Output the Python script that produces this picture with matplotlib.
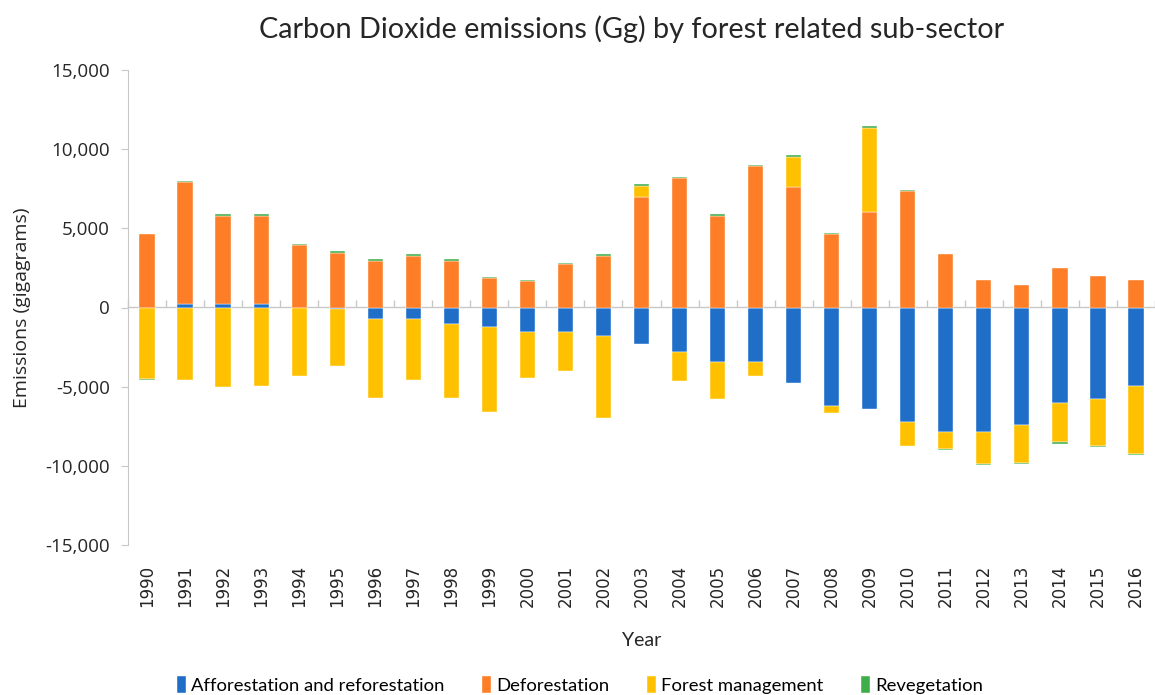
import matplotlib.pyplot as plt
import numpy as np
from matplotlib.ticker import FuncFormatter

plt.rcParams['font.family'] = ['Open Sans', 'DejaVu Sans']
plt.rcParams['ytick.labelsize'] = 13.5

years = [str(y) for y in range(1990, 2017)]

# values in Gg
afforestation = [0, 230, 230, 230, 0, -120, -700, -700, -1040, -1230,
                 -1540, -1540, -1770, -2280, -2830, -3460, -3460, -4750, -6250, -6440,
                 -7200, -7850, -7850, -7430, -6040, -5800, -4960]
deforestation = [4640, 7700, 5580, 5580, 3930, 3470, 2960, 3270, 2960, 1860,
                 1650, 2720, 3270, 6980, 8170, 5810, 8910, 7615, 4640, 6015,
                 7330, 3350, 1730, 1410, 2470, 1960, 1730]
forest_mgmt = [-4500, -4550, -5050, -4980, -4330, -3580, -5020, -3860, -4680, -5350,
               -2920, -2470, -5240, 715, -1790, -2340, -840, 1920, -420, 5320,
               -1520, -1080, -2025, -2360, -2470, -2920, -4280]
revegetation = [-80, 80, 80, 80, 80, 80, 80, 80, 80, 80,
                80, 80, 80, 100, 80, 80, 80, 100, 80, 100,
                80, -100, -100, -80, -80, -80, -80]

series = [("Afforestation and reforestation", afforestation, "#1f6fc9"),
          ("Deforestation", deforestation, "#fd7e26"),
          ("Forest management", forest_mgmt, "#ffc000"),
          ("Revegetation", revegetation, "#3fae49")]

grey = '#c8c8c8'
ink = '#262626'

fig = plt.figure(figsize=(11.55, 6.95), dpi=100)
ax = fig.add_axes([128/1155, 150/695, 1027/1155, 475/695])

# stack positives upward and negatives downward, like Excel
x = np.arange(len(years))
pos_base = np.zeros(len(years))
neg_base = np.zeros(len(years))
for name, vals, col in series:
    v = np.array(vals, dtype=float)
    base = np.where(v >= 0, pos_base, neg_base)
    ax.bar(x, v, 0.4, bottom=base, color=col, label=name,
           edgecolor='white', linewidth=0.3, zorder=2)
    pos_base += np.clip(v, 0, None)
    neg_base += np.clip(v, None, 0)

ax.set_xlim(-0.5, len(years) - 0.5)
ax.set_ylim(-15000, 15000)
ax.set_yticks(np.arange(-15000, 15001, 5000))
ax.yaxis.set_major_formatter(FuncFormatter(lambda v, p: f"{int(v):,}"))
ax.tick_params(axis='y', length=5, color=grey, pad=8, labelcolor=ink)

ax.set_xticks(x)
ax.set_xticklabels(years, rotation=90, fontsize=12, family='DejaVu Sans',
                   color=ink)
ax.tick_params(axis='x', length=0, pad=14)

for s in ['top', 'right', 'bottom']:
    ax.spines[s].set_visible(False)
ax.spines['left'].set_color(grey)

# category axis drawn through zero
zero_ax = ax.secondary_xaxis(0.5)
zero_ax.set_xticks(np.arange(-0.5, len(years), 1.0))
zero_ax.set_xticklabels([])
zero_ax.tick_params(axis='x', direction='out', length=5, color=grey, width=1)
for sp in zero_ax.spines.values():
    sp.set_color(grey)
    sp.set_linewidth(1)

ax.set_ylabel("Emissions (gigagrams)", fontsize=14, labelpad=10, color=ink)
ax.set_xlabel("Year", fontsize=14, family='Lato', labelpad=18, color=ink)
fig.suptitle("Carbon Dioxide emissions (Gg) by forest related sub-sector",
             fontsize=20.8, family='Lato', x=0.547, y=0.978, color=ink)

ax.legend(loc='lower center', bbox_to_anchor=(0.44, -0.348), ncol=4,
          frameon=False, prop={'family': 'Lato', 'size': 13.3},
          handlelength=0.5, handleheight=1.0, handletextpad=0.3,
          columnspacing=2.0)

fig.savefig("out.png", dpi=100)
